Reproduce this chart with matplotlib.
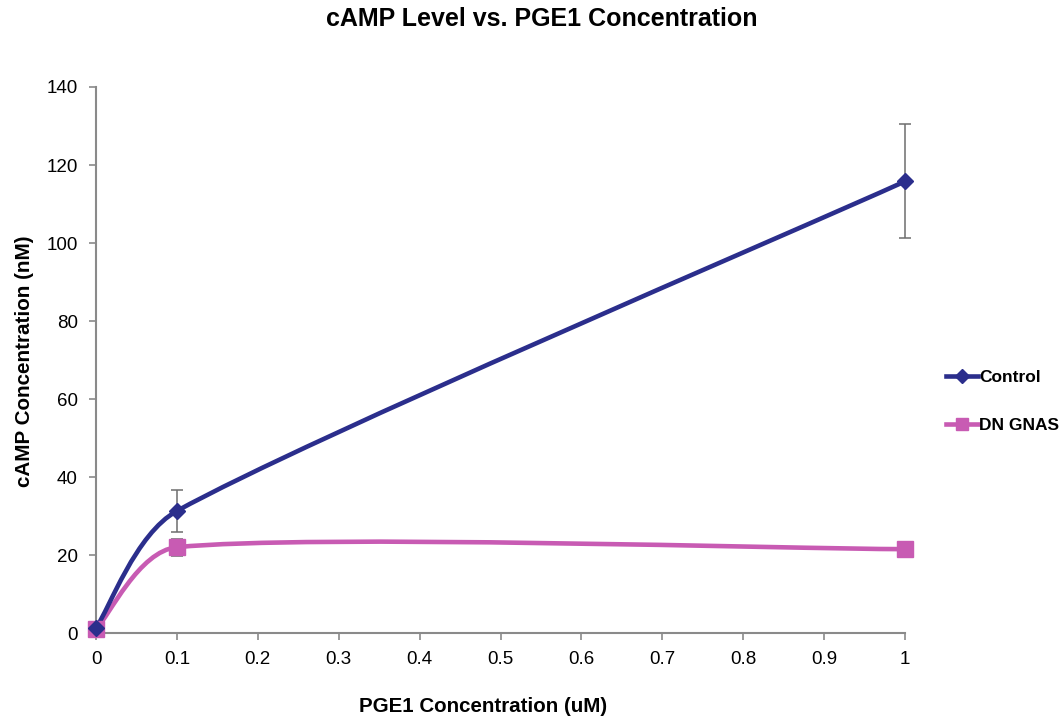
import numpy as np
import matplotlib.pyplot as plt
from matplotlib.path import Path
from matplotlib.patches import PathPatch
from matplotlib.lines import Line2D

plt.rcParams['font.family'] = ['Liberation Sans', 'DejaVu Sans']

# data
conc = [0, 0.1, 1]
control = [1.3, 31.3, 115.8]
control_err = [0, 5.4, 14.6]
dn_gnas = [1.0, 22.0, 21.5]
dn_gnas_err = [0, 2.2, 0.8]
series_names = ['Control', 'DN GNAS']

x_ticks = [0, 0.1, 0.2, 0.3, 0.4, 0.5, 0.6, 0.7, 0.8, 0.9, 1]
x_labels = ['0', '0.1', '0.2', '0.3', '0.4', '0.5', '0.6', '0.7', '0.8', '0.9', '1']
y_ticks = [0, 20, 40, 60, 80, 100, 120, 140]

blue = '#2b2e8c'
pink = '#c85bb3'
axis_gray = '#8a8a8a'


def smooth_path(ax, xs, ys, k=1/3):
    # Excel-like smoothed line: cubic Bezier through the points,
    # tangents worked out in screen space
    pts = ax.transData.transform(np.column_stack([xs, ys]))
    n = len(pts)
    verts = [pts[0]]
    codes = [Path.MOVETO]
    for i in range(n - 1):
        p0, p1 = pts[i], pts[i + 1]
        d = np.linalg.norm(p1 - p0)
        if i == 0:
            c1 = p0 + (p1 - p0) / 6
        else:
            t = pts[i + 1] - pts[i - 1]
            h = min(np.linalg.norm(t) / 6, k * d)
            c1 = p0 + t / np.linalg.norm(t) * h
        if i + 1 == n - 1:
            c2 = p1 - (p1 - p0) / 6
        else:
            t = pts[i + 2] - pts[i]
            h = min(np.linalg.norm(t) / 6, k * d)
            c2 = p1 - t / np.linalg.norm(t) * h
        verts += [c1, c2, p1]
        codes += [Path.CURVE4] * 3
    verts = ax.transData.inverted().transform(np.array(verts))
    return Path(verts, codes)


fig = plt.figure(figsize=(10.6, 7.19), dpi=100)
ax = fig.add_axes([0.0906, 0.1196, 0.7632, 0.7594])
ax.set_xlim(0, 1)
ax.set_ylim(0, 140)

for ys, err in [(control, control_err), (dn_gnas, dn_gnas_err)]:
    eb = ax.errorbar(conc, ys, yerr=err, fmt='none', ecolor='#6e6e6e',
                     elinewidth=1.1, capsize=4, capthick=1.1, zorder=2)
    for art in eb.lines[1] + eb.lines[2]:
        art.set_clip_on(False)

for ys, col in [(dn_gnas, pink), (control, blue)]:
    ax.add_patch(PathPatch(smooth_path(ax, conc, ys), facecolor='none',
                           edgecolor=col, lw=3.3, capstyle='round', zorder=3))

ax.plot(conc, control, linestyle='none', marker='D', color=blue,
        markersize=8, zorder=5, clip_on=False)
ax.plot(conc, dn_gnas, linestyle='none', marker='s', color=pink,
        markersize=11, zorder=4, clip_on=False)

ax.set_xticks(x_ticks)
ax.set_xticklabels(x_labels)
ax.set_yticks(y_ticks)
ax.tick_params(direction='out', length=5, width=1.2, color=axis_gray,
               labelsize=13.5, pad=8)
for s in ['top', 'right']:
    ax.spines[s].set_visible(False)
for s in ['left', 'bottom']:
    ax.spines[s].set_color(axis_gray)
    ax.spines[s].set_linewidth(1.5)

ax.set_xlabel('PGE1 Concentration (uM)', fontsize=14.8, fontweight='bold')
ax.xaxis.set_label_coords(0.478, -0.118)
ax.set_ylabel('cAMP Concentration (nM)', fontsize=14.9, fontweight='bold')
ax.yaxis.set_label_coords(-0.077, 0.498)

fig.text(0.511, 0.973, 'cAMP Level vs. PGE1 Concentration', ha='center',
         va='center', fontsize=18, fontweight='bold')

handles = [Line2D([], [], color=blue, lw=3.3, marker='D', markersize=7),
           Line2D([], [], color=pink, lw=3.3, marker='s', markersize=8)]
leg = fig.legend(handles, series_names, loc='center left',
                 bbox_to_anchor=(0.878, 0.442), frameon=False,
                 prop={'size': 12.5, 'weight': 'bold'},
                 handlelength=1.8, handletextpad=0.1, labelspacing=1.9)

fig.savefig('out.png', dpi=100)
